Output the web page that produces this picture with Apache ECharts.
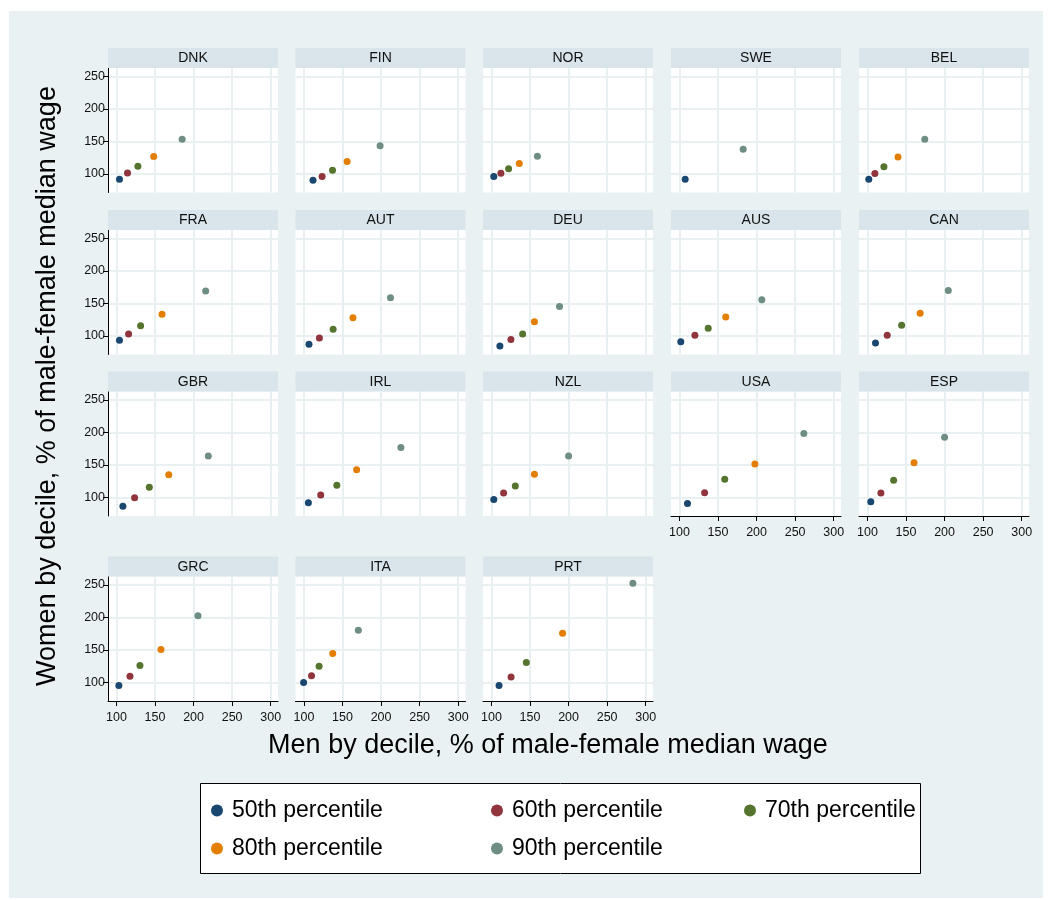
<!DOCTYPE html>
<html>
<head>
<meta charset="utf-8">
<script src="https://cdn.jsdelivr.net/npm/echarts@6/dist/echarts.min.js"></script>
<style>
  html, body { margin: 0; padding: 0; background: #ffffff; }
  #chart { width: 1052px; height: 900px; }
</style>
</head>
<body>
<div id="chart"></div>
<script>
// Country panels, in reading order
const countries = ['DNK', 'FIN', 'NOR', 'SWE', 'BEL',
                   'FRA', 'AUT', 'DEU', 'AUS', 'CAN',
                   'GBR', 'IRL', 'NZL', 'USA', 'ESP',
                   'GRC', 'ITA', 'PRT'];

const percentiles = ['50th percentile', '60th percentile', '70th percentile',
                     '80th percentile', '90th percentile'];

// Men by decile (% of male-female median wage), one value per country
const men50 = [103.9, 111.7, 103.0, 107.4, 101.7, 103.9, 106.5, 110.9, 101.7, 110.4,
               108.3, 105.7, 103.0, 110.4, 104.3, 103.1, 99.5, 109.8];
const men60 = [114.3, 123.5, 112.2, null, 109.6, 115.7, 120.0, 125.2, 120.0, 125.6,
               123.5, 121.7, 115.7, 132.6, 117.4, 117.5, 109.8, 125.4];
const men70 = [127.8, 137.0, 122.2, null, 121.3, 131.3, 137.8, 140.4, 137.3, 144.3,
               142.6, 142.6, 130.9, 158.7, 133.9, 130.4, 119.6, 145.2];
const men80 = [148.3, 156.0, 136.1, null, 139.6, 159.1, 163.5, 155.7, 160.0, 168.3,
               167.8, 168.3, 155.7, 197.8, 160.4, 157.7, 137.3, 192.2];
const men90 = [185.2, 198.7, 159.6, 182.6, 174.3, 215.7, 212.2, 188.3, 206.8, 204.8,
               219.1, 225.7, 200.0, 261.3, 200.0, 205.7, 170.5, 283.4];

// Women by decile (% of male-female median wage), one value per country
const women50 = [91.7, 90.2, 95.9, 91.7, 91.7, 93.3, 87.0, 84.4, 91.2, 89.1,
                 86.5, 91.7, 96.9, 90.7, 93.3, 95.3, 100.0, 95.3];
const women60 = [101.6, 95.9, 101.0, null, 100.5, 103.1, 96.9, 94.3, 101.0, 101.0,
                 99.5, 103.6, 106.7, 107.2, 106.7, 109.3, 110.3, 108.3];
const women70 = [111.9, 105.7, 107.8, null, 110.9, 115.6, 110.4, 103.1, 111.9, 116.6,
                 115.5, 118.6, 117.6, 127.9, 126.4, 125.9, 124.8, 130.6];
const women80 = [126.9, 119.1, 116.0, null, 125.9, 133.2, 128.0, 121.8, 129.0, 134.8,
                 134.7, 142.4, 135.7, 151.6, 153.3, 150.7, 144.4, 175.6];
const women90 = [153.3, 143.4, 127.2, 137.8, 153.3, 169.0, 158.6, 145.1, 155.5, 170.0,
                 163.6, 177.0, 163.6, 198.2, 192.6, 202.6, 180.1, 252.6];

// Tick labels
const xTicks = [100, 150, 200, 250, 300];
const yTicks = [100, 150, 200, 250];

const colors = ['#1a476f', '#90353b', '#55752f', '#e37e00', '#6e8e84'];

// ---- layout ----
const FONT = '"Liberation Sans", Arial, sans-serif';
const NCOL = 5;
const colLeft = [108, 295.5, 483, 671, 859];
const headerTop = [48, 210, 371.5, 556.5];
const HEADER_H = 20;
const PLOT_W = 170;
const PLOT_H = 124.5;
const GRID_COLOR = '#e8f0f2';
const HEADER_COLOR = '#d9e5eb';
const BG_COLOR = '#eaf1f3';

const menByPct = [men50, men60, men70, men80, men90];
const womenByPct = [women50, women60, women70, women80, women90];

const grids = [], xAxes = [], yAxes = [], series = [];
const graphics = [];

// light outer region
graphics.push({
  type: 'rect', z: -100, silent: true,
  shape: { x: 9, y: 11, width: 1034, height: 887 },
  style: { fill: BG_COLOR }
});

const n = countries.length;
countries.forEach((name, i) => {
  const row = Math.floor(i / NCOL);
  const col = i % NCOL;
  const lastRowOfCol = Math.floor((n - 1 - col) / NCOL);
  const showX = row === lastRowOfCol;
  const showY = col === 0;
  const left = colLeft[col];
  const top = headerTop[row] + HEADER_H;

  grids.push({
    show: true, left: left, top: top, width: PLOT_W, height: PLOT_H,
    backgroundColor: '#ffffff', borderWidth: 0
  });

  xAxes.push({
    type: 'value', gridIndex: i, min: 89, max: 309.5, splitNumber: 5,
    axisLine: { show: showX, onZero: false, lineStyle: { color: '#000', width: 1 } },
    axisTick: { show: showX, length: 5, customValues: xTicks, lineStyle: { color: '#000' } },
    axisLabel: {
      show: showX, customValues: xTicks, margin: 10,
      color: '#111', fontFamily: FONT, fontSize: 12.5
    },
    splitLine: { show: true, lineStyle: { color: GRID_COLOR, width: 2 } }
  });

  yAxes.push({
    type: 'value', gridIndex: i, min: 71.4, max: 263, splitNumber: 4,
    axisLine: { show: showY, onZero: false, lineStyle: { color: '#000', width: 1 } },
    axisTick: { show: showY, length: 5, customValues: yTicks, lineStyle: { color: '#000' } },
    axisLabel: {
      show: showY, customValues: yTicks, margin: 3,
      color: '#111', fontFamily: FONT, fontSize: 12.5
    },
    splitLine: { show: true, lineStyle: { color: GRID_COLOR, width: 2 } }
  });

  percentiles.forEach((p, k) => {
    const x = menByPct[k][i];
    const y = womenByPct[k][i];
    series.push({
      type: 'scatter', name: p, xAxisIndex: i, yAxisIndex: i,
      data: x == null ? [] : [[x, y]],
      symbol: 'circle', symbolSize: 7,
      itemStyle: { color: colors[k], opacity: 1 },
      emphasis: { disabled: true }, silent: true, animation: false
    });
  });

  // panel header strip
  graphics.push({
    type: 'rect', z: 1, silent: true,
    shape: { x: left, y: headerTop[row], width: PLOT_W, height: HEADER_H },
    style: { fill: HEADER_COLOR }
  });
  graphics.push({
    type: 'text', z: 2, silent: true,
    x: left + PLOT_W / 2, y: headerTop[row] + HEADER_H / 2 + 0.5,
    style: {
      text: name, fill: '#111', font: '14px ' + FONT,
      textAlign: 'center', textVerticalAlign: 'middle'
    }
  });
});

// axis titles
graphics.push({
  type: 'text', z: 2, silent: true, x: 548, y: 746,
  style: {
    text: 'Men by decile, % of male-female median wage', fill: '#000',
    font: '27px ' + FONT, textAlign: 'center', textVerticalAlign: 'middle'
  }
});
graphics.push({
  type: 'text', z: 2, silent: true, x: 48, y: 386, rotation: Math.PI / 2,
  style: {
    text: 'Women by decile, % of male-female median wage', fill: '#000',
    font: '27px ' + FONT, textAlign: 'center', textVerticalAlign: 'middle'
  }
});

// legend frame
graphics.push({
  type: 'rect', z: -50, silent: true,
  shape: { x: 200.5, y: 783.5, width: 720, height: 90 },
  style: { fill: '#ffffff', stroke: '#000', lineWidth: 1 }
});

const legendSlots = [[211, 799], [491, 799], [744, 799], [211, 837], [491, 837]];
const legends = percentiles.map((p, k) => ({
  data: [p], left: legendSlots[k][0], top: legendSlots[k][1],
  padding: 0, icon: 'circle', itemWidth: 12, itemHeight: 12,
  selectedMode: false,
  textStyle: { color: '#000', fontFamily: FONT, fontSize: 23, padding: [0, 0, 0, 4] }
}));

const chart = echarts.init(document.getElementById('chart'));
chart.setOption({
  backgroundColor: '#ffffff',
  animation: false,
  grid: grids,
  xAxis: xAxes,
  yAxis: yAxes,
  legend: legends,
  graphic: graphics,
  series: series
});
</script>
</body>
</html>
